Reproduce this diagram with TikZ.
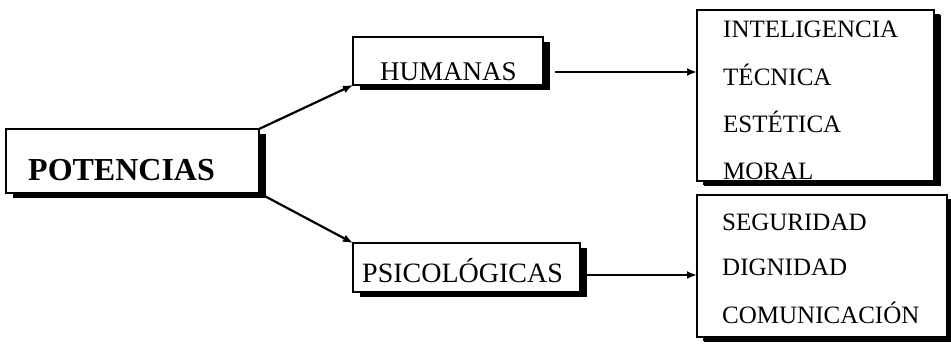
\documentclass[tikz,border=0pt]{standalone}
\usepackage{fontspec}
\setmainfont{Liberation Serif}
\usetikzlibrary{shadows,arrows.meta}
\begin{document}
\begin{tikzpicture}[x=1pt,y=-1pt,
  box/.style={draw=black, fill=white, line width=1.6pt, inner sep=0pt, outer sep=0pt,
    drop shadow={shadow xshift=7pt, shadow yshift=-5pt, fill=black, opacity=1}},
  rbox/.style={box, drop shadow={shadow xshift=6pt, shadow yshift=-4pt, fill=black, opacity=1}},
  txt/.style={anchor=base west, inner sep=0pt, font=\fontsize{27}{30}\selectfont},
  rtxt/.style={anchor=base west, inner sep=0pt, font=\fontsize{25}{30}\selectfont},
  arr/.style={line width=2.2pt, -{Latex[length=10pt,width=8pt]}}]
\useasboundingbox (0,0) rectangle (951,346);
\fill[white] (0,0) rectangle (951,346);
% boxes
\node[box, minimum width=253pt, minimum height=64pt] (pot) at (132.5,161) {};
\node[box, minimum width=190pt, minimum height=48pt] (hum) at (448,61) {};
\node[box, minimum width=227pt, minimum height=49pt] (psi) at (466.5,267.5) {};
\node[rbox, minimum width=237pt, minimum height=171pt] (up) at (815.5,95.5) {};
\node[rbox, minimum width=250pt, minimum height=142pt] (lo) at (822,266) {};
% texts
\node[anchor=base west, inner sep=0pt, font=\fontsize{32}{36}\selectfont\bfseries] (potT) at (28,180) {POTENCIAS};
\node[txt] (humT) at (380,80) {HUMANAS};
\node[txt, font=\fontsize{28}{30}\selectfont] (psiT) at (362,282) {PSICOLÓGICAS};
\node[rtxt] (u1) at (723,37) {INTELIGENCIA};
\node[rtxt] (u2) at (723,85) {TÉCNICA};
\node[rtxt] (u3) at (723,132) {ESTÉTICA};
\node[rtxt] (u4) at (723,179) {MORAL};
\node[rtxt] (l1) at (722,230) {SEGURIDAD};
\node[rtxt] (l2) at (722,275) {DIGNIDAD};
\node[rtxt] (l3) at (722,323) {COMUNICACIÓN};
% connectors
\draw[arr] (pot.north east) -- (hum.south west);
\draw[arr] (pot.south east) -- (psi.north west);
\coordinate (a1) at (555,72);
\coordinate (a2) at (583,275);
\draw[arr] (a1) -- (a1 -| up.west);
\draw[arr] (a2) -- (a2 -| lo.west);
\end{tikzpicture}
\end{document}
